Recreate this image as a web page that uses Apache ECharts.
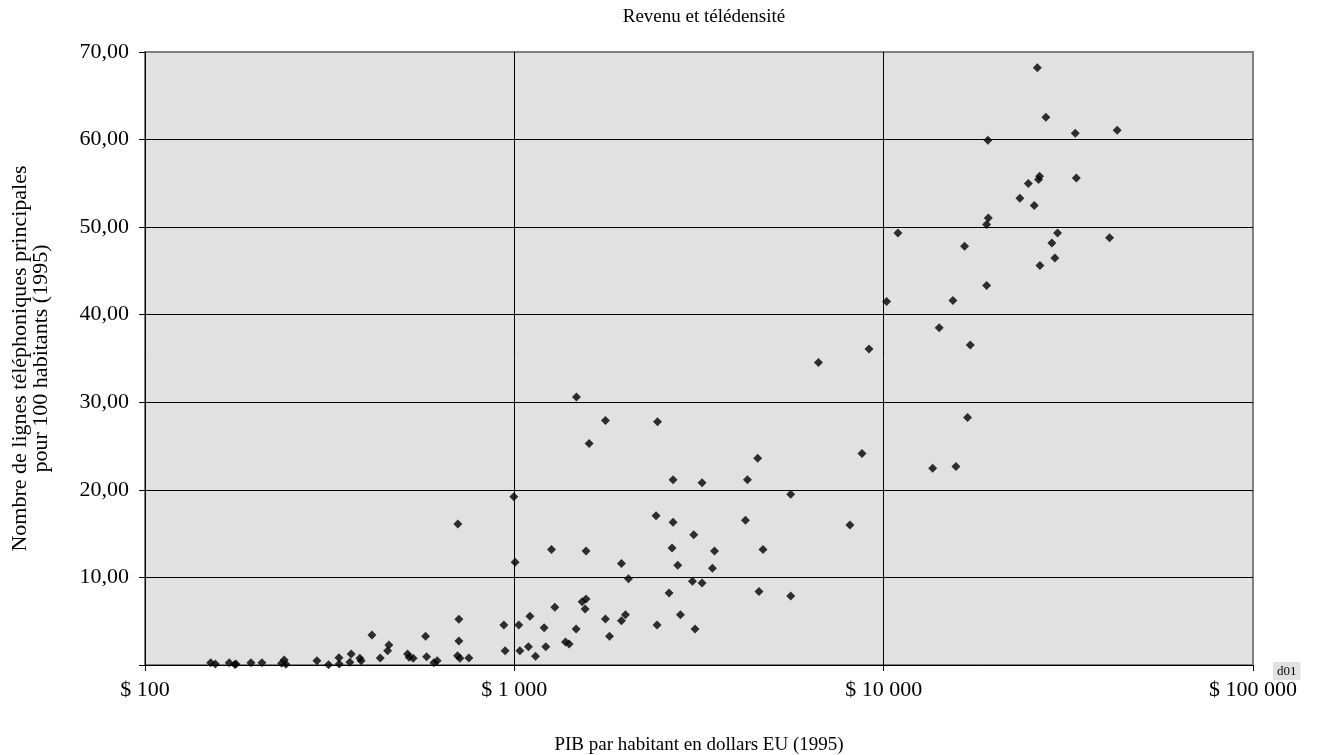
<!DOCTYPE html>
<html>
<head>
<meta charset="utf-8">
<script src="https://cdn.jsdelivr.net/npm/echarts@6/dist/echarts.min.js"></script>
<style>
html,body{margin:0;padding:0;background:#fff;}
#chart{width:1321px;height:755px;}
</style>
</head>
<body>
<div id="chart"></div>
<script>
// PIB par habitant (US$, 1995)
var gdpPerCapita = [
  150.6,155.0,169.1,176.3,175.2,193.6,207.3,234.4,238.2,240.8,
  292.1,314.1,335.0,335.7,361.6,358.7,381.8,384.9,411.5,433.4,
  457.5,453.8,514.0,519.2,532.3,575.0,578.7,605.6,618.1,707.7,
  707.7,702.0,712.1,753.2,703.3,936.8,944.3,1028,1035,996.9,
  1005,1092,1102,1141,1204,1217,1261,1287,1376,1407,
  1470,1473,1526,1564,1555,1564,1594,1765,1765,1810,
  1950,1950,1999,2037,2420,2435,2441,2624,2673,2690,
  2690,2770,2817,3036,3060,3085,3223,3223,3439,3483,
  4224,4277,4560,4597,4713,5602,5602,6658,8105,8738,
  9126,10188,10931,13573,14134,15400,15690,16560,16874,17160,
  18998,18998,19200,19150,23380,24640,25570,26060,26270,26430,
  26490,27490,28540,29080,29570,33020,33230,40890,42890
];
// Lignes téléphoniques principales pour 100 habitants (1995)
var teledensity = [
  0.26,0.11,0.26,0.11,0.05,0.26,0.26,0.19,0.57,0.08,
  0.49,0.03,0.83,0.11,1.26,0.31,0.77,0.49,3.43,0.80,
  2.29,1.63,1.26,0.88,0.77,3.28,0.95,0.26,0.49,5.22,
  2.74,1.06,0.77,0.80,16.11,4.57,1.63,4.57,1.63,19.20,
  11.74,2.09,5.57,0.99,4.26,2.09,13.18,6.59,2.63,2.40,
  4.11,30.59,7.23,7.54,6.40,13.03,25.29,27.92,5.26,3.28,
  11.58,5.06,5.75,9.86,17.03,4.57,27.77,8.23,13.37,21.14,
  16.31,11.39,5.75,9.57,14.86,4.11,20.80,9.37,11.05,13.03,
  16.54,21.14,23.62,8.38,13.18,19.51,7.89,34.55,16.00,24.15,
  36.08,41.52,49.34,22.48,38.51,41.63,22.66,47.81,28.26,36.54,
  43.35,50.29,51.05,59.92,53.29,54.97,52.46,68.19,55.43,55.81,
  45.63,62.55,48.19,46.48,49.34,60.72,55.62,48.80,61.06
];
var xTickValues = [100, 1000, 10000, 100000];
var yTickValues = [0, 10, 20, 30, 40, 50, 60, 70];

var points = gdpPerCapita.map(function (v, i) { return [v, teledensity[i]]; });

function fmtDollar(v) {
  var s = String(Math.round(v));
  return '$ ' + s.replace(/\B(?=(\d{3})+(?!\d))/g, ' ');
}

var FONT = 'Liberation Serif';
var chart = echarts.init(document.getElementById('chart'));
chart.setOption({
  backgroundColor: '#ffffff',
  animation: false,
  textStyle: { fontFamily: FONT },
  title: {
    text: 'Revenu et télédensité',
    left: 699, top: 3, textAlign: 'center',
    textStyle: { fontFamily: FONT, fontSize: 19, fontWeight: 'normal', color: '#000' }
  },
  grid: {
    left: 145, right: 68, top: 52, bottom: 90,
    outerBoundsMode: 'none', containLabel: false,
    show: true, backgroundColor: '#e1e1e1', borderColor: '#808080', borderWidth: 2
  },
  xAxis: {
    type: 'log', logBase: 10,
    min: xTickValues[0], max: xTickValues[xTickValues.length - 1],
    name: 'PIB par habitant en dollars EU (1995)',
    nameLocation: 'middle', nameGap: 71,
    nameTextStyle: { fontFamily: FONT, fontSize: 19, color: '#000' },
    axisLine: { show: true, lineStyle: { color: '#000', width: 1 } },
    axisTick: { show: true, length: 6, lineStyle: { color: '#000' } },
    axisLabel: {
      fontFamily: FONT, fontSize: 22, color: '#000', margin: 14,
      formatter: function (v) { return fmtDollar(v); }
    },
    splitLine: { show: true, showMinLine: false, showMaxLine: false, lineStyle: { color: '#000', width: 1 } },
    minorTick: { show: false }
  },
  yAxis: {
    type: 'value', min: yTickValues[0], max: yTickValues[yTickValues.length - 1], interval: 10,
    name: 'Nombre de lignes téléphoniques principales\npour 100 habitants (1995)',
    nameLocation: 'middle', nameGap: 93, nameRotate: 90,
    nameTextStyle: { fontFamily: FONT, fontSize: 22, color: '#000', lineHeight: 21 },
    axisLine: { show: true, lineStyle: { color: '#000', width: 1 } },
    axisTick: { show: true, length: 6, lineStyle: { color: '#000' } },
    axisLabel: {
      fontFamily: FONT, fontSize: 22, color: '#000', margin: 16,
      formatter: function (v) { return v === 0 ? '' : v.toFixed(2).replace('.', ','); }
    },
    splitLine: { show: true, showMinLine: false, showMaxLine: false, lineStyle: { color: '#000', width: 1 } }
  },
  series: [{
    type: 'scatter',
    data: points,
    symbol: 'diamond',
    symbolSize: 9,
    itemStyle: { color: '#000' },
    clip: false
  }],
  graphic: [{
    type: 'text', left: 1273, top: 662,
    style: {
      text: 'd01', fontFamily: FONT, fontSize: 13, fill: '#000',
      backgroundColor: '#e1e1e1', padding: [3, 4, 2, 4]
    }
  }]
});
</script>
</body>
</html>
